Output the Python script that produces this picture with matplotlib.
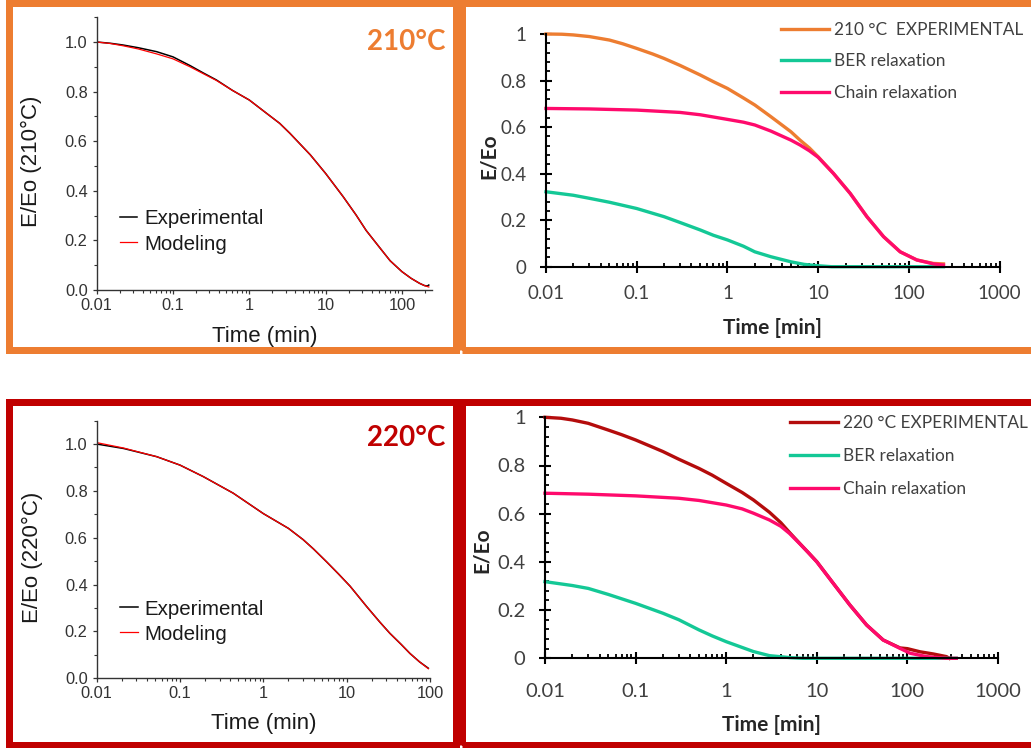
import matplotlib
matplotlib.use("Agg")
import matplotlib.pyplot as plt
from matplotlib.patches import Rectangle
from matplotlib.ticker import MultipleLocator

W, H = 1031, 748

# ---- 210 C, Origin-style panel (experimental vs modeling) ----
t_210 = [0.01, 0.015, 0.022, 0.035, 0.061, 0.1, 0.167, 0.25, 0.37, 0.6, 1, 1.69, 2.5,
         3.4, 6.3, 10, 17, 25, 34, 52, 70, 100, 132, 170, 197, 215, 225]
exp_210 = [1.0, 0.995, 0.988, 0.977, 0.961, 0.94, 0.905, 0.875, 0.847, 0.805, 0.766, 0.712, 0.672,
           0.632, 0.545, 0.47, 0.376, 0.303, 0.24, 0.168, 0.118, 0.074, 0.047, 0.027, 0.018, 0.016, 0.02]
mod_210 = [1.0, 0.994, 0.985, 0.972, 0.952, 0.932, 0.9, 0.872, 0.845, 0.805, 0.766, 0.712, 0.672,
           0.632, 0.545, 0.47, 0.376, 0.303, 0.24, 0.168, 0.118, 0.074, 0.047, 0.027, 0.018, 0.014, 0.012]

# ---- 220 C, Origin-style panel ----
t_220 = [0.01, 0.021, 0.0525, 0.1, 0.19, 0.436, 1, 2, 3, 4, 5.75, 8, 11, 17.4, 25, 33, 45, 57.5, 75, 95.5]
exp_220 = [1.0, 0.981, 0.946, 0.91, 0.861, 0.79, 0.703, 0.64, 0.592, 0.552, 0.497, 0.445, 0.393, 0.306,
           0.24, 0.192, 0.145, 0.106, 0.07, 0.043]
mod_220 = [1.006, 0.983, 0.946, 0.91, 0.861, 0.79, 0.703, 0.64, 0.592, 0.552, 0.497, 0.445, 0.393, 0.306,
           0.24, 0.192, 0.145, 0.106, 0.07, 0.041]

# ---- 210 C, decomposition ----
t_exp210 = [0.01, 0.015, 0.02, 0.03, 0.05, 0.07, 0.1, 0.15, 0.2, 0.3, 0.5, 0.7, 1, 1.5, 2, 3, 5, 6.3, 8,
            10, 14.7, 22.5, 34.4, 52.5, 80, 122, 186, 240]
e_exp210 = [1.0, 0.999, 0.996, 0.989, 0.974, 0.958, 0.938, 0.914, 0.895, 0.865, 0.824, 0.795, 0.766,
            0.725, 0.695, 0.645, 0.58, 0.544, 0.51, 0.472, 0.401, 0.315, 0.215, 0.129, 0.064, 0.029,
            0.014, 0.012]
t_chain210 = [0.01, 0.03, 0.1, 0.3, 0.5, 1, 1.5, 2, 3, 5, 6.3, 8, 10, 14.7, 22.5, 34.4, 52.5, 80, 122,
              186, 240]
e_chain210 = [0.68, 0.678, 0.673, 0.663, 0.653, 0.633, 0.621, 0.609, 0.583, 0.544, 0.523, 0.498, 0.47,
              0.401, 0.315, 0.215, 0.129, 0.064, 0.029, 0.012, 0.007]
t_ber210 = [0.01, 0.02, 0.03, 0.05, 0.1, 0.2, 0.3, 0.5, 0.7, 1, 1.5, 2, 3, 5, 7, 10, 14, 240]
e_ber210 = [0.322, 0.307, 0.294, 0.277, 0.25, 0.215, 0.19, 0.158, 0.135, 0.115, 0.088, 0.064, 0.043,
            0.021, 0.01, 0.004, 0.0, 0.0]

# ---- 220 C, decomposition ----
t_exp220 = [0.01, 0.015, 0.02, 0.03, 0.05, 0.07, 0.1, 0.15, 0.2, 0.3, 0.5, 0.7, 1, 1.5, 2, 3, 4, 5,
            6.5, 8, 10, 15.2, 23.2, 35.5, 54, 83, 100, 138, 193, 270, 290]
e_exp220 = [1.0, 0.996, 0.989, 0.975, 0.947, 0.928, 0.906, 0.878, 0.858, 0.826, 0.788, 0.76, 0.726,
            0.688, 0.657, 0.606, 0.563, 0.522, 0.476, 0.44, 0.401, 0.311, 0.221, 0.138, 0.076, 0.043,
            0.04, 0.027, 0.018, 0.007, 0.0]
t_chain220 = [0.01, 0.03, 0.1, 0.3, 0.5, 1, 1.5, 2, 3, 4, 5, 6.5, 8, 10, 15.2, 23.2, 35.5, 54, 83, 107,
              163, 270, 346]
e_chain220 = [0.685, 0.681, 0.674, 0.664, 0.655, 0.636, 0.62, 0.602, 0.574, 0.548, 0.518, 0.475, 0.44,
              0.40, 0.311, 0.221, 0.138, 0.076, 0.041, 0.021, 0.007, 0.0, 0.0]
t_ber220 = [0.01, 0.02, 0.03, 0.05, 0.1, 0.2, 0.3, 0.5, 0.7, 1, 1.5, 2, 3, 5, 7, 346]
e_ber220 = [0.318, 0.302, 0.29, 0.265, 0.228, 0.187, 0.16, 0.118, 0.093, 0.069, 0.045, 0.028, 0.011,
            0.003, 0.0, 0.0]

origin_xticks = [0.01, 0.1, 1, 10, 100]
origin_xlabels = ["0.01", "0.1", "1", "10", "100"]
origin_yticks = [0.0, 0.2, 0.4, 0.6, 0.8, 1.0]
origin_ylabels = ["0.0", "0.2", "0.4", "0.6", "0.8", "1.0"]
excel_xticks = [0.01, 0.1, 1, 10, 100, 1000]
excel_xlabels = ["0.01", "0.1", "1", "10", "100", "1000"]
excel_yticks = [0, 0.2, 0.4, 0.6, 0.8, 1.0]
excel_ylabels = ["0", "0.2", "0.4", "0.6", "0.8", "1"]

ORANGE = "#ED7D31"
DARKRED = "#C00000"
GREEN = "#14C896"
PINK = "#FF0A6C"
EXP220 = "#B40C0C"
ARIAL = "Liberation Sans"


def px_axes(left, right, top, bottom):
    # pixel box -> figure fraction
    return [left / W, 1 - bottom / H, (right - left) / W, (bottom - top) / H]


fig = plt.figure(figsize=(W / 100, H / 100), dpi=100)

# frames
for (x0, y0, x1, y1, c) in [(8.5, 3.5, 456, 349.5, ORANGE), (462, 3.5, 1040, 349.5, ORANGE),
                            (8.5, 401.5, 456, 744.5, DARKRED), (462, 401.5, 1040, 744.5, DARKRED)]:
    fig.add_artist(Rectangle((x0 / W, 1 - y1 / H), (x1 - x0) / W, (y1 - y0) / H,
                             transform=fig.transFigure, fill=False, ec=c, lw=7 * 0.72))


def origin_style(ax, xmax, ylab, frac_y):
    ax.set_xscale("log")
    ax.set_xlim(0.01, xmax)
    ax.set_ylim(0, 1.1)
    for s in ["top", "right"]:
        ax.spines[s].set_visible(False)
    for s in ["left", "bottom"]:
        ax.spines[s].set_color("#333333")
        ax.spines[s].set_linewidth(1.0)
    ax.set_xticks(origin_xticks, origin_xlabels)
    ax.set_yticks(origin_yticks, origin_ylabels)
    ax.yaxis.set_minor_locator(MultipleLocator(0.1))
    ax.tick_params(which="major", direction="out", length=3, width=0.9, color="#333333",
                   labelsize=11.8, labelcolor="#333333")
    ax.tick_params(which="minor", direction="out", length=2, width=0.8, color="#333333")
    ax.tick_params(axis="y", which="major", pad=3.5)
    ax.tick_params(axis="x", which="major", pad=2.5)
    for lab in ax.get_xticklabels() + ax.get_yticklabels():
        lab.set_family(ARIAL)
    ax.set_xlabel("Time (min)", fontsize=16, family=ARIAL, color="#1a1a1a", va="center")
    ax.xaxis.set_label_coords(0.5, frac_y)
    ax.set_ylabel(ylab, fontsize=16, family=ARIAL, color="#1a1a1a", va="center")
    ax.yaxis.set_label_coords(-0.193, 0.47)
    ax.set_facecolor("none")


def excel_style(ax, xlab_y, ylab_xy, labsize, xpad):
    ax.set_xscale("log")
    ax.set_xlim(0.01, 1000)
    ax.set_ylim(0, 1)
    for s in ["top", "right"]:
        ax.spines[s].set_visible(False)
    for s in ["left", "bottom"]:
        ax.spines[s].set_color("black")
        ax.spines[s].set_linewidth(1.5)
    ax.set_xticks(excel_xticks, excel_xlabels)
    ax.set_yticks(excel_yticks, excel_ylabels)
    ax.yaxis.set_minor_locator(MultipleLocator(0.04))
    ax.tick_params(which="major", direction="inout", length=9, width=1.5, color="black",
                   labelsize=labsize, labelcolor="#404040")
    ax.tick_params(which="minor", direction="in", length=3.2, width=1.3, color="black")
    ax.tick_params(axis="y", which="major", pad=9.5)
    ax.tick_params(axis="x", which="major", pad=xpad)
    for lab in ax.get_xticklabels() + ax.get_yticklabels():
        lab.set_family("Lato")
    ax.set_xlabel("Time [min]", fontsize=15, fontweight="bold", family="Lato", color="#262626", va="center")
    ax.xaxis.set_label_coords(0.5, xlab_y)
    ax.set_ylabel("E/Eo", fontsize=15, fontweight="bold", family="Lato", color="#262626", va="center")
    ax.yaxis.set_label_coords(*ylab_xy)
    ax.set_facecolor("none")


# panel 1: 210 C experimental vs modeling
ax1 = fig.add_axes(px_axes(96.7, 432.3, 17.2, 290))
ax1.plot(t_210, exp_210, color="black", lw=1.1, label="Experimental")
ax1.plot(t_210, mod_210, color="red", lw=0.9, label="Modeling")
origin_style(ax1, 250, "E/Eo (210°C)", -0.172)
ax1.legend(loc="center left", bbox_to_anchor=(0.069, 0.2145), frameon=False,
           prop={"family": ARIAL, "size": 14.8}, handlelength=0.85, handletextpad=0.35,
           labelspacing=0.3, borderpad=0, borderaxespad=0, labelcolor="#1a1a1a")
fig.text(445 / W, 1 - 42 / H, "210°C", ha="right", va="center", color=ORANGE,
         fontsize=20, fontweight="bold", family="Lato")

# panel 3: 220 C experimental vs modeling
ax3 = fig.add_axes(px_axes(96.7, 430, 420.6, 678.3))
ax3.plot(t_220, exp_220, color="black", lw=1.1, label="Experimental")
ax3.plot(t_220, mod_220, color="red", lw=0.9, label="Modeling")
origin_style(ax3, 100, "E/Eo (220°C)", -0.175)
ax3.legend(loc="center left", bbox_to_anchor=(0.07, 0.22), frameon=False,
           prop={"family": ARIAL, "size": 14.8}, handlelength=0.85, handletextpad=0.35,
           labelspacing=0.3, borderpad=0, borderaxespad=0, labelcolor="#1a1a1a")
fig.text(445 / W, 1 - 438 / H, "220°C", ha="right", va="center", color=DARKRED,
         fontsize=20, fontweight="bold", family="Lato")

# panel 2: 210 C decomposition
ax2 = fig.add_axes(px_axes(546, 999.7, 34, 266.7))
ax2.plot(t_exp210, e_exp210, color=ORANGE, lw=2.4, label="210 °C  EXPERIMENTAL")
ax2.plot(t_ber210, e_ber210, color=GREEN, lw=2.4, label="BER relaxation")
ax2.plot(t_chain210, e_chain210, color=PINK, lw=2.4, label="Chain relaxation")
excel_style(ax2, -0.263, (-0.126, 0.477), 13.5, 9)
ax2.legend(loc="center left", bbox_to_anchor=(0.517, 0.882), frameon=False,
           prop={"family": "Lato", "size": 12.4}, handlelength=2.8, handletextpad=0.32,
           labelspacing=0.9, borderpad=0, borderaxespad=0, labelcolor="#404040")
for ln in ax2.lines:
    ln.set_clip_on(False)

# panel 4: 220 C decomposition
ax4 = fig.add_axes(px_axes(545, 998, 417.3, 658.3))
ax4.plot(t_exp220, e_exp220, color=EXP220, lw=2.4, label="220 °C EXPERIMENTAL")
ax4.plot(t_ber220, e_ber220, color=GREEN, lw=2.4, label="BER relaxation")
ax4.plot(t_chain220, e_chain220, color=PINK, lw=2.4, label="Chain relaxation")
excel_style(ax4, -0.277, (-0.139, 0.449), 14.5, 13)
ax4.legend(loc="center left", bbox_to_anchor=(0.54, 0.839), frameon=False,
           prop={"family": "Lato", "size": 12.4}, handlelength=2.8, handletextpad=0.32,
           labelspacing=1.0, borderpad=0, borderaxespad=0, labelcolor="#404040")
for ln in ax4.lines:
    ln.set_clip_on(False)

fig.savefig("out.png", dpi=100)
